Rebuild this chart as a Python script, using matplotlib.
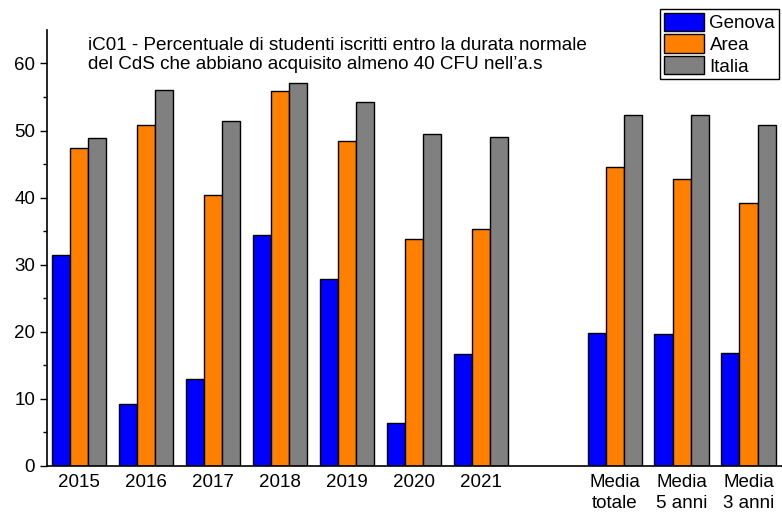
import matplotlib
matplotlib.use('Agg')
import matplotlib.pyplot as plt
import numpy as np

# iC01 data
categories = ['2015', '2016', '2017', '2018', '2019', '2020', '2021',
              'Media\ntotale', 'Media\n5 anni', 'Media\n3 anni']
positions = [0, 1, 2, 3, 4, 5, 6, 8, 9, 10]
genova = [31.4, 9.2, 13.0, 34.5, 27.8, 6.4, 16.7, 19.8, 19.6, 16.9]
area = [47.4, 50.9, 40.4, 55.9, 48.5, 33.8, 35.3, 44.5, 42.8, 39.2]
italia = [48.9, 56.0, 51.4, 57.1, 54.3, 49.5, 49.1, 52.3, 52.3, 50.9]

plt.rcParams['font.family'] = ['Liberation Sans', 'DejaVu Sans']

fig = plt.figure(figsize=(7.82, 5.16), dpi=100)
ax = fig.add_axes([0.060, 0.097, 0.940, 0.845])

x = np.array(positions)
w = 0.27
ax.bar(x - w, genova, w, color='#0000ff', edgecolor='black', linewidth=1, label='Genova')
ax.bar(x, area, w, color='#ff8000', edgecolor='black', linewidth=1, label='Area')
ax.bar(x + w, italia, w, color='#808080', edgecolor='black', linewidth=1, label='Italia')

ax.set_xlim(-0.48, 10.5)
ax.set_ylim(0, 65)
ax.set_yticks(range(0, 61, 10))
ax.set_yticks(range(5, 65, 10), minor=True)
ax.set_xticks(x)
ax.set_xticklabels(categories, fontsize=13.5, linespacing=1.25)
ax.tick_params(axis='x', length=0, pad=6)
ax.tick_params(axis='y', which='major', direction='out', length=5, width=1, labelsize=13.5)
ax.tick_params(axis='y', which='minor', direction='out', length=3, width=1)

for s in ['top', 'right']:
    ax.spines[s].set_visible(False)
for s in ['left', 'bottom']:
    ax.spines[s].set_linewidth(1.2)

fig.text(88 / 782, 1 - 37 / 516,
         'iC01 - Percentuale di studenti iscritti entro la durata normale\n'
         'del CdS che abbiano acquisito almeno 40 CFU nell\u2019a.s',
         fontsize=13.6, va='top', ha='left', linespacing=1.12)

leg = ax.legend(loc='upper right', bbox_to_anchor=(779 / 782, 1 - 9 / 516),
                bbox_transform=fig.transFigure, fontsize=13.5, frameon=True,
                fancybox=False, edgecolor='black', framealpha=1,
                handlelength=2.15, handleheight=1.12, labelspacing=0.12,
                handletextpad=0.3, borderpad=0.2, borderaxespad=0)
leg.get_frame().set_linewidth(1)

fig.savefig('out.png', dpi=100)
